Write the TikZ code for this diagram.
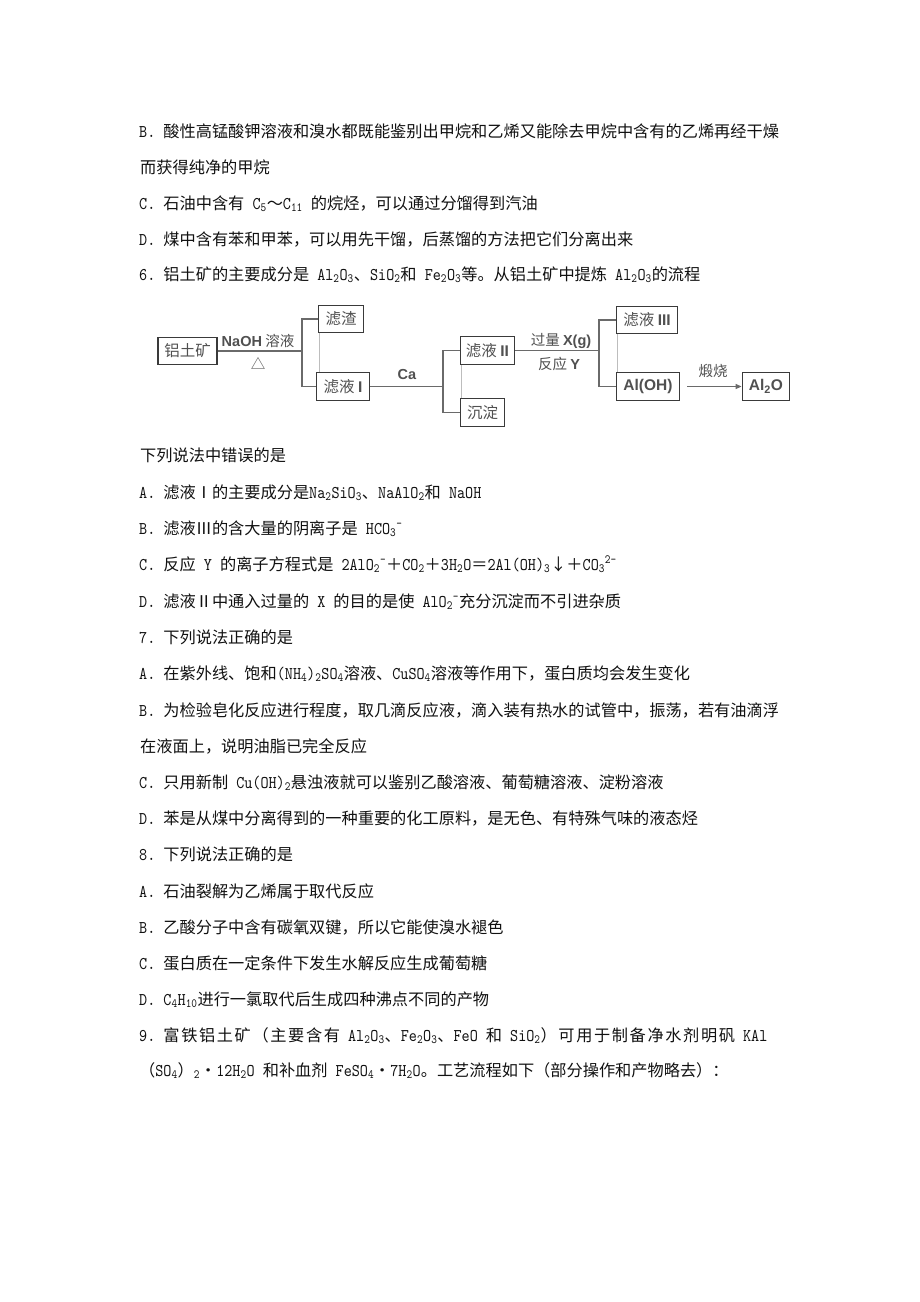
\documentclass[tikz,border=0pt]{standalone}
\usepackage{fontspec}
\setmainfont{Noto Sans CJK SC}
\newfontfamily\flsans{Liberation Sans}
\newfontfamily\latf[FakeStretch=0.86]{lmmono10-regular.otf}
\usetikzlibrary{arrows.meta}
\definecolor{boxc}{HTML}{3A3A3A}
\definecolor{linec}{HTML}{6A6A6A}
\definecolor{faintc}{HTML}{BDBDBD}
\definecolor{flowtxt}{HTML}{505050}
\definecolor{bodytxt}{HTML}{111111}
\newcommand\lat[1]{{\latf\fontsize{17.9}{19}\selectfont #1}}
\newcommand\sbs[1]{\textsubscript{#1}}
\newcommand\sps[1]{\textsuperscript{#1}}
\newcommand\fs{\flsans\bfseries}
\frenchspacing
\begin{document}
\begin{tikzpicture}[x=1pt,y=-1pt,
  txt/.style={anchor=base west, inner sep=0, text=bodytxt, font=\fontsize{16.2}{19}\selectfont},
  box/.style={draw=boxc, line width=1.8pt, inner sep=0, text=flowtxt, font=\fontsize{15.5}{17}\selectfont},
  conn/.style={draw=linec, line width=1.6pt},
  faint/.style={draw=faintc, line width=0.9pt},
  lbl/.style={inner sep=0, text=flowtxt, font=\fontsize{14.5}{16}\selectfont}]
\useasboundingbox (0,0) rectangle (920,1302);
\fill[white] (0,0) rectangle (920,1302);
% ---- text above flowchart
\node[txt] (t1) at (139,137) {\lat{B. }酸性高锰酸钾溶液和溴水都既能鉴别出甲烷和乙烯又能除去甲烷中含有的乙烯再经干燥};
\node[txt] (t2) at (140,173) {而获得纯净的甲烷};
\node[txt] (t3) at (139,209) {\lat{C. }石油中含有\lat{ C\sbs{5}}～\lat{C\sbs{11} }的烷烃，可以通过分馏得到汽油};
\node[txt] (t4) at (139,245) {\lat{D. }煤中含有苯和甲苯，可以用先干馏，后蒸馏的方法把它们分离出来};
\node[txt] (t5) at (139,280) {\lat{6. }铝土矿的主要成分是\lat{ Al\sbs{2}O\sbs{3}}、\lat{SiO\sbs{2}}和\lat{ Fe\sbs{2}O\sbs{3}}等。从铝土矿中提炼\lat{ Al\sbs{2}O\sbs{3}}的流程};
% ---- flowchart
\node[box, minimum width=59pt, minimum height=27pt] (ore) at (187.5,351) {铝土矿};
\node[box, minimum width=45pt, minimum height=27pt] (zha) at (341,319) {滤渣};
\node[box, minimum width=53pt, minimum height=28pt] (ly1) at (343,386.5) {滤液~{\fs I}};
\node[box, minimum width=54pt, minimum height=28pt] (ly2) at (487.5,350.5) {滤液~{\fs II}};
\node[box, minimum width=44pt, minimum height=28pt] (cd) at (482.5,412.5) {沉淀};
\node[box, minimum width=61pt, minimum height=27pt] (ly3) at (647,320) {滤液~{\fs III}};
\node[box, minimum width=63pt, minimum height=28pt] (aloh) at (648,386.5) {\fs Al(OH)};
\node[box, minimum width=47pt, minimum height=28pt] (alo) at (766,386.5) {\fs Al\textsubscript{2}O};
\coordinate (b1) at (302,351);
\coordinate (b2) at (443,386.5);
\coordinate (b3) at (599,350.5);
\coordinate (a0) at (687,386.5);
\draw[conn] (ore.east) -- (b1);
\draw[conn] (zha.west) -| (b1) |- (ly1.west);
\draw[conn] (ly1.east) -- (b2);
\draw[conn] (ly2.west) -| (b2) |- (cd.west);
\draw[conn] (ly2.east) -- (b3);
\draw[conn] (ly3.west) -| (b3) |- (aloh.west);
\draw[draw=linec, line width=1.3pt, -{Triangle[length=6pt,width=5pt]}] (a0) -- (alo.west);
\draw[faint] ([xshift=2pt]zha.south west) -- ([xshift=2pt]zha.south west |- ly1.north);
\draw[faint] ([xshift=2pt]ly2.south west) -- ([xshift=2pt]ly2.south west |- cd.north);
\draw[faint] ([xshift=2pt]ly3.south west) -- ([xshift=2pt]ly3.south west |- aloh.north);
\node[lbl] (lnaoh) at (258,341) {{\fs NaOH}~溶液};
\node[lbl] (ldelta) at (258,364) {△};
\node[lbl] (lca) at (407,375) {\fs Ca};
\node[lbl] (lx) at (561,341) {过量~{\fs X(g)}};
\node[lbl] (ly) at (559,364) {反应~{\fs Y}};
\node[lbl] (lduan) at (713,371) {煅烧};
% ---- text below flowchart
\node[txt] (t6) at (140,461) {下列说法中错误的是};
\node[txt] (t7) at (139,498) {\lat{A. }滤液Ⅰ的主要成分是\lat{Na\sbs{2}SiO\sbs{3}}、\lat{NaAlO\sbs{2}}和\lat{ NaOH}};
\node[txt] (t8) at (139,534) {\lat{B. }滤液Ⅲ的含大量的阴离子是\lat{ HCO\sbs{3}\sps{-}}};
\node[txt] (t9) at (139,570) {\lat{C. }反应\lat{ Y }的离子方程式是\lat{ 2AlO\sbs{2}\sps{-}}＋\lat{CO\sbs{2}}＋\lat{3H\sbs{2}O}＝\lat{2Al(OH)\sbs{3}}↓＋\lat{CO\sbs{3}\sps{2-}}};
\node[txt] (t10) at (139,607) {\lat{D. }滤液Ⅱ中通入过量的\lat{ X }的目的是使\lat{ AlO\sbs{2}\sps{-}}充分沉淀而不引进杂质};
\node[txt] (t11) at (139,643) {\lat{7. }下列说法正确的是};
\node[txt] (t12) at (139,679) {\lat{A. }在紫外线、饱和\lat{(NH\sbs{4})\sbs{2}SO\sbs{4}}溶液、\lat{CuSO\sbs{4}}溶液等作用下，蛋白质均会发生变化};
\node[txt] (t13) at (139,716) {\lat{B. }为检验皂化反应进行程度，取几滴反应液，滴入装有热水的试管中，振荡，若有油滴浮};
\node[txt] (t14) at (140,752) {在液面上，说明油脂已完全反应};
\node[txt] (t15) at (139,788) {\lat{C. }只用新制\lat{ Cu(OH)\sbs{2}}悬浊液就可以鉴别乙酸溶液、葡萄糖溶液、淀粉溶液};
\node[txt] (t16) at (139,824) {\lat{D. }苯是从煤中分离得到的一种重要的化工原料，是无色、有特殊气味的液态烃};
\node[txt] (t17) at (139,860) {\lat{8. }下列说法正确的是};
\node[txt] (t18) at (139,897) {\lat{A. }石油裂解为乙烯属于取代反应};
\node[txt] (t19) at (139,933) {\lat{B. }乙酸分子中含有碳氧双键，所以它能使溴水褪色};
\node[txt] (t20) at (139,969) {\lat{C. }蛋白质在一定条件下发生水解反应生成葡萄糖};
\node[txt] (t21) at (139,1005) {\lat{D. C\sbs{4}H\sbs{10}}进行一氯取代后生成四种沸点不同的产物};
\node[txt] (t22) at (139,1041) {\addfontfeature{LetterSpace=10}\lat{9. }富铁铝土矿（主要含有\lat{ Al\sbs{2}O\sbs{3}}、\lat{Fe\sbs{2}O\sbs{3}}、\lat{FeO }和\lat{ SiO\sbs{2}}）可用于制备净水剂明矾\lat{ KAl}};
\node[txt] (t23) at (139,1076) {（\lat{SO\sbs{4}}）\lat{\sbs{2}}・\lat{12H\sbs{2}O }和补血剂\lat{ FeSO\sbs{4}}・\lat{7H\sbs{2}O}。工艺流程如下（部分操作和产物略去）：};
\end{tikzpicture}
\end{document}
